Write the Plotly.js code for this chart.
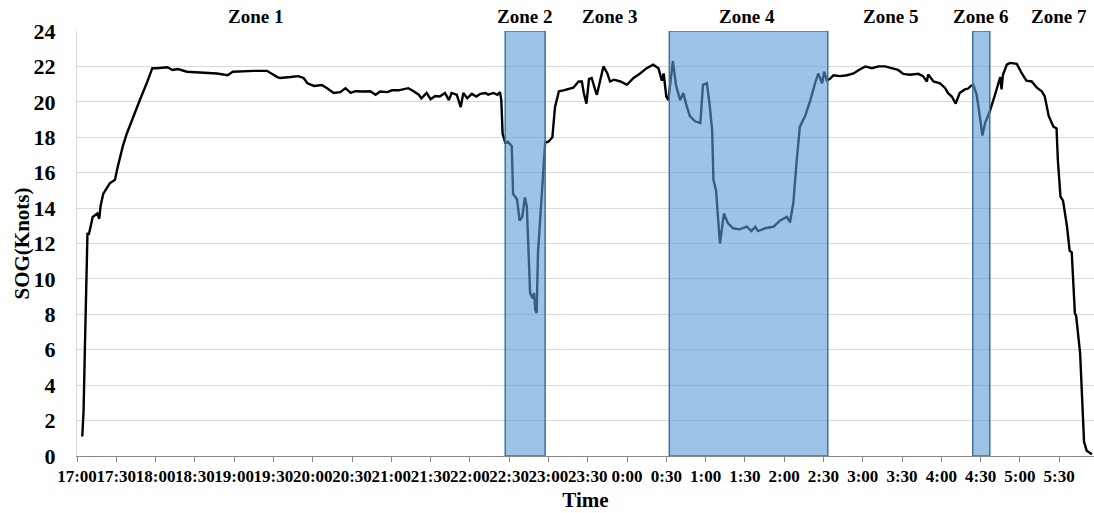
<!DOCTYPE html>
<html>
<head>
<meta charset="utf-8">
<script src="https://cdn.plot.ly/plotly-3.0.1.min.js"></script>
<style>
html,body{margin:0;padding:0;background:#fff;}
#chart{width:1094px;height:513px;}
</style>
</head>
<body>
<div id="chart"></div>
<script>
// ---- Data ----
const times = [
  "17:04","17:05","17:06","17:07","17:08","17:09","17:12","17:15:30","17:17","17:18","17:20","17:25","17:29","17:31","17:35","17:38","17:43","17:48","17:54","17:57:30",
  "18:01","18:09","18:13","18:17","18:24","18:34","18:47","18:55","18:59",
  "19:15","19:25","19:33","19:35","19:43","19:49","19:53","19:56",
  "20:01","20:07","20:11","20:16","20:21","20:25","20:29","20:32:30","20:38","20:44","20:48","20:51:30","20:57",
  "21:00:30","21:05:30","21:09","21:13","21:17","21:21","21:23","21:27","21:30","21:33:30","21:37","21:41","21:44","21:46","21:50","21:53","21:55","21:58",
  "22:01:30","22:05","22:08","22:12","22:14","22:18","22:21","22:23","22:24","22:25","22:27","22:29","22:32","22:33","22:36","22:38","22:40","22:42","22:43:30","22:45","22:46","22:48","22:49","22:50","22:51","22:52","22:55","22:57:30",
  "23:00","23:03","23:05","23:08","23:11:30","23:15","23:19","23:23","23:25:30","23:27","23:29","23:31","23:33","23:36","23:37","23:39:30","23:42","23:45","23:47","23:50","23:55","23:59:54",
  "0:05","0:10","0:15","0:20","0:24","0:26:36","0:28","0:30","0:31:36","0:35","0:37:30","0:40:36","0:43","0:45","0:48","0:52","0:56","0:58",
  "1:01","1:03","1:05","1:06","1:08","1:10","1:11","1:14","1:17","1:21","1:26","1:31:30","1:35","1:38","1:40","1:45:30","1:52","1:57",
  "2:02","2:04:30","2:07","2:09:36","2:12","2:16","2:20","2:23:36","2:26","2:29","2:30:30","2:32:36","2:35","2:37:36","2:42:42","2:48","2:53","2:57",
  "3:02","3:07","3:12","3:17","3:22","3:27","3:31","3:36","3:42:30","3:46","3:49","3:50","3:54","3:59",
  "4:03","4:05","4:08","4:11","4:14","4:18","4:20:36","4:22:30","4:24:30","4:27","4:29","4:31:24","4:33:24","4:37","4:41","4:45","4:46","4:47","4:50","4:52:30","4:57:36",
  "5:01:30","5:05","5:09","5:13","5:16:42","5:19","5:22","5:25:36","5:28","5:29","5:31","5:33","5:36","5:38","5:39:36","5:42","5:43","5:46","5:48","5:49","5:51","5:55"
];
const sog = [
  1.1,2.5,6.0,10.0,12.6,12.5,13.5,13.7,13.4,14.1,14.8,15.4,15.6,16.3,17.5,18.2,19.2,20.1,21.2,21.9,
  21.9,21.95,21.8,21.85,21.7,21.65,21.6,21.5,21.7,
  21.75,21.75,21.4,21.35,21.4,21.45,21.35,21.05,
  20.9,20.95,20.77,20.5,20.55,20.77,20.5,20.6,20.58,20.6,20.4,20.58,20.55,
  20.65,20.65,20.7,20.77,20.6,20.4,20.2,20.5,20.15,20.33,20.3,20.5,20.1,20.5,20.4,19.7,20.5,20.2,
  20.45,20.3,20.45,20.5,20.4,20.5,20.4,20.55,20.1,18.2,17.7,17.75,17.5,14.8,14.5,13.3,13.5,14.6,14.1,11.45,9.2,8.9,9.2,8.25,8.07,11.45,15.2,17.7,
  17.75,18.0,19.7,20.6,20.65,20.7,20.8,21.15,21.15,20.5,19.9,21.3,21.35,20.6,20.4,21.2,22.0,21.6,21.15,21.25,21.15,20.96,
  21.35,21.6,21.9,22.1,21.9,21.2,21.6,20.3,20.1,22.3,20.9,20.1,20.5,19.9,19.2,18.9,18.8,20.96,
  21.05,19.9,18.4,15.6,15.0,12.95,12.0,13.7,13.15,12.86,12.8,12.95,12.7,12.95,12.7,12.86,12.95,13.3,
  13.5,13.2,14.3,16.7,18.6,19.2,20.1,21.05,21.6,21.05,21.7,21.2,21.3,21.5,21.45,21.5,21.6,21.8,
  22.0,21.9,22.0,22.0,21.9,21.8,21.58,21.53,21.58,21.45,21.15,21.55,21.15,21.05,
  20.77,20.5,20.3,19.9,20.5,20.7,20.75,20.9,20.96,20.4,19.4,18.1,18.8,19.45,20.4,21.4,20.7,21.5,22.1,22.2,22.15,
  21.6,21.2,21.15,20.8,20.6,20.3,19.2,18.6,18.5,16.7,14.65,14.4,12.95,11.6,11.5,8.06,7.9,5.8,3.0,0.8,0.3,0.1
];
const xTickLabels = ["17:00","17:30","18:00","18:30","19:00","19:30","20:00","20:30","21:00","21:30","22:00","22:30","23:00","23:30",
                     "0:00","0:30","1:00","1:30","2:00","2:30","3:00","3:30","4:00","4:30","5:00","5:30"];
const yTickValues = [0,2,4,6,8,10,12,14,16,18,20,22,24];
const zoneNames = ["Zone 1","Zone 2","Zone 3","Zone 4","Zone 5","Zone 6","Zone 7"];
const zoneLabelTimes = ["19:16","22:42","23:47","1:32","3:21","4:30","5:30"];
const shadedStart = ["22:27","0:32:18","4:24"];
const shadedEnd   = ["22:57:30","2:33:18","4:37"];
const xStart = "17:00";
const xEnd = "5:56:36";
const xTitle = "Time";
const yTitle = "SOG(Knots)";

// ---- helpers ----
function toDate(t){
  const p = t.split(":").map(Number);
  const h = p[0], m = p[1], s = p[2] || 0;
  const day = h >= 12 ? "2020-01-01" : "2020-01-02";
  const pad = n => String(n).padStart(2,"0");
  return day + " " + pad(h) + ":" + pad(m) + ":" + pad(s);
}

const FONT = "Liberation Serif, Times New Roman, serif";

const trace = {
  type: "scatter",
  mode: "lines",
  x: times.map(toDate),
  y: sog,
  line: {color: "#000000", width: 2.4},
  hoverinfo: "skip"
};

const shapes = shadedStart.map((s, i) => ({
  type: "rect",
  xref: "x", yref: "y",
  x0: toDate(s), x1: toDate(shadedEnd[i]),
  y0: 0, y1: 24,
  fillcolor: "rgba(92,155,213,0.6)",
  line: {color: "#41719c", width: 1.5},
  layer: "above"
}));

const annotations = zoneNames.map((n, i) => ({
  xref: "x", yref: "paper",
  x: toDate(zoneLabelTimes[i]), y: 1.033,
  xanchor: "center", yanchor: "middle",
  text: n, showarrow: false,
  font: {family: FONT, size: 19, color: "#000", weight: "bold"}
}));
// y-axis title placed as rotated text left of the tick labels
annotations.push({
  xref: "paper", yref: "paper",
  x: (21 - 77) / 1017, y: 0.5,
  xanchor: "center", yanchor: "middle",
  textangle: -90,
  text: yTitle, showarrow: false,
  font: {family: FONT, size: 21, color: "#000", weight: "bold"}
});

const layout = {
  width: 1094, height: 513,
  margin: {l: 77, r: 0, t: 31, b: 57},
  paper_bgcolor: "#ffffff",
  plot_bgcolor: "#ffffff",
  showlegend: false,
  font: {family: FONT, color: "#000"},
  xaxis: {
    type: "date",
    range: [toDate(xStart), toDate(xEnd)],
    tickmode: "array",
    tickvals: xTickLabels.map(toDate),
    ticktext: xTickLabels,
    tickangle: 0,
    ticks: "outside", ticklen: 5, tickwidth: 1, tickcolor: "#868686",
    showline: true, linecolor: "#868686", linewidth: 1,
    showgrid: false, zeroline: false,
    tickfont: {family: FONT, size: 17, color: "#000", weight: "bold"},
    title: {text: xTitle, font: {family: FONT, size: 21, color: "#000", weight: "bold"}, standoff: 6}
  },
  yaxis: {
    range: [0, 24],
    tickmode: "array",
    tickvals: yTickValues,
    ticktext: yTickValues.map(String),
    showgrid: true, gridcolor: "#d9d9d9", gridwidth: 1,
    showline: true, linecolor: "#d9d9d9", linewidth: 1,
    zeroline: false,
    ticks: "",
    ticklabelstandoff: 16,
    tickfont: {family: FONT, size: 22, color: "#000", weight: "bold"},
    title: {text: ""}
  },
  shapes: shapes,
  annotations: annotations
};

Plotly.newPlot("chart", [trace], layout, {displayModeBar: false, staticPlot: true});
</script>
</body>
</html>
